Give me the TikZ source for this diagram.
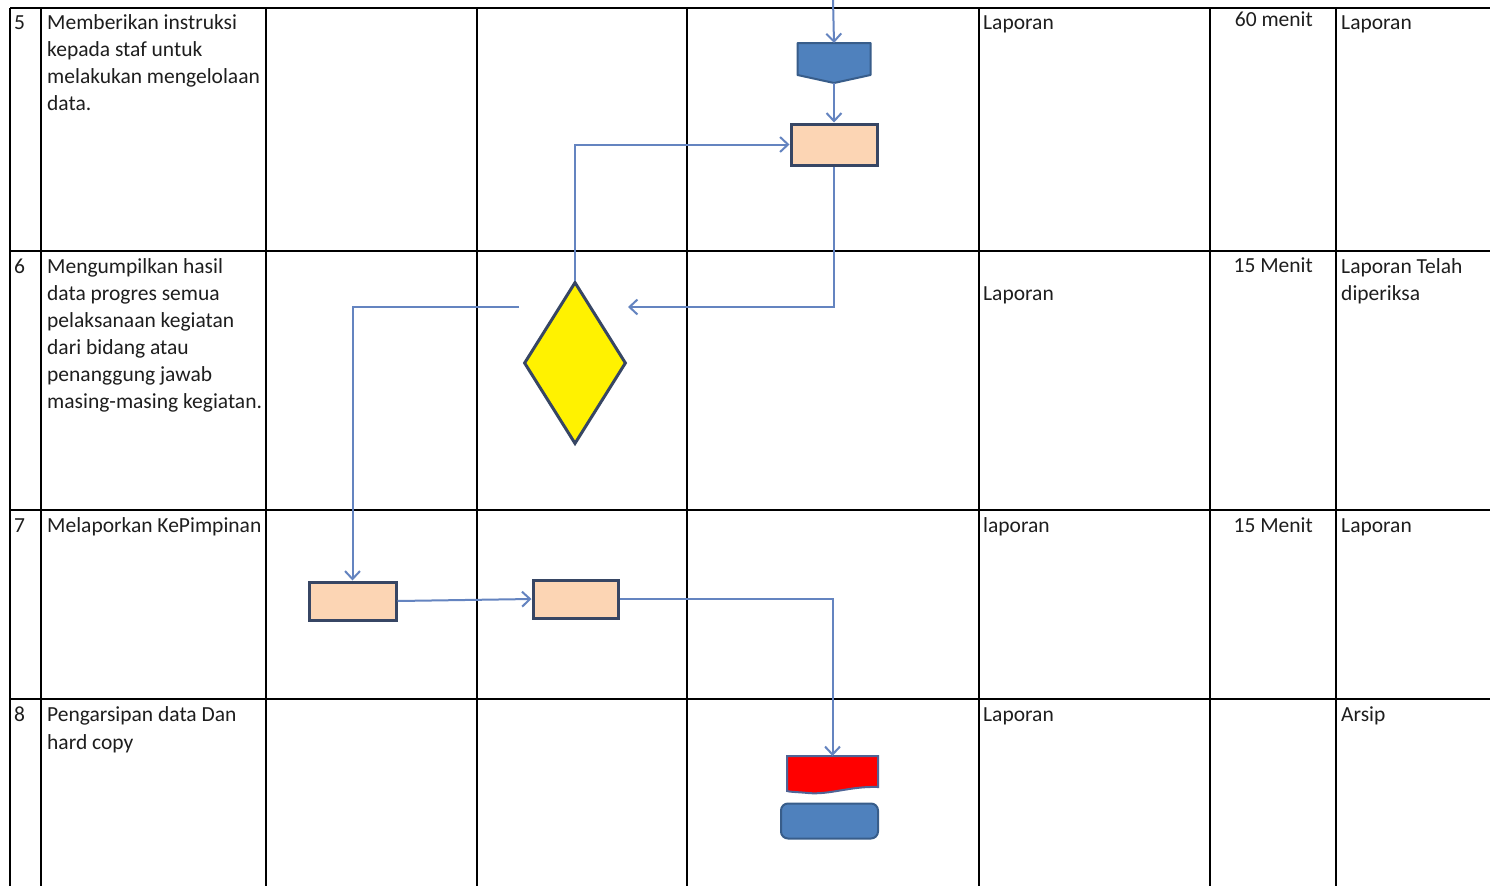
\documentclass[tikz,border=0pt]{standalone}
\usepackage{fontspec}
\setmainfont{Carlito}
\usetikzlibrary{arrows.meta,shapes.geometric}
\definecolor{lineblue}{RGB}{100,132,192}
\definecolor{shapeborder}{RGB}{55,70,100}
\definecolor{peach}{RGB}{252,213,180}
\definecolor{offblue}{RGB}{79,129,189}
\definecolor{offborder}{RGB}{56,93,138}
\definecolor{redborder}{RGB}{79,100,150}
\definecolor{txtcol}{RGB}{30,30,30}
\begin{document}
\begin{tikzpicture}[x=1pt,y=-1pt,
  gridline/.style={line width=1.9pt,black},
  conn/.style={line width=2pt,draw=lineblue,-{Straight Barb[length=8pt,width=15pt,line width=2pt]}},
  procbox/.style={rectangle,draw=shapeborder,line width=3pt,fill=peach,minimum width=#1,minimum height=38pt,inner sep=0pt},
  holder/.style={rectangle,draw=none,inner sep=0pt,outer sep=0pt},
  txt/.style={anchor=base west,inner sep=0pt,text=txtcol,font=\fontsize{21.5}{27}\selectfont},
  txtr/.style={anchor=base east,inner sep=0pt,text=txtcol,font=\fontsize{21.5}{27}\selectfont}
]
\useasboundingbox (0,0) rectangle (1490,886);
\fill[white] (0,0) rectangle (1490,886);

% grid
\foreach \y in {8,251,510,699} \draw[gridline] (10,\y) -- (1490,\y);
\foreach \x in {10,41,266,477,687,979,1210,1336} \draw[gridline] (\x,8) -- (\x,886);

% row numbers and activity texts
\node[txt] (n5) at (14,29) {5};
\node[txt] (n6) at (14,273) {6};
\node[txt] (n7) at (14,532) {7};
\node[txt] (n8) at (14,721) {8};

\node[txt] (a5a) at (47,29) {Memberikan instruksi};
\node[txt] (a5b) at (47,56) {kepada staf untuk};
\node[txt] (a5c) at (47,83) {melakukan mengelolaan};
\node[txt] (a5d) at (47,110) {data.};

\node[txt] (a6a) at (47,273) {Mengumpilkan hasil};
\node[txt] (a6b) at (47,300) {data progres semua};
\node[txt] (a6c) at (47,327) {pelaksanaan kegiatan};
\node[txt] (a6d) at (47,354) {dari bidang atau};
\node[txt] (a6e) at (47,381) {penanggung jawab};
\node[txt] (a6f) at (47,408) {masing-masing kegiatan.};

\node[txt] (a7a) at (47,532) {Melaporkan KePimpinan};

\node[txt] (a8a) at (47,721) {Pengarsipan data Dan};
\node[txt] (a8b) at (47,749) {hard copy};

% kelengkapan
\node[txt] (k5) at (983,29) {Laporan};
\node[txt] (k6) at (983,300) {Laporan};
\node[txt] (k7) at (983,532) {laporan};
\node[txt] (k8) at (983,721) {Laporan};

% waktu
\node[txtr] (w5) at (1313,27) {60 menit};
\node[txtr] (w6) at (1313,272) {15 Menit};
\node[txtr] (w7) at (1313,532) {15 Menit};

% output
\node[txt] (o5) at (1341,29) {Laporan};
\node[txt] (o6a) at (1341,273) {Laporan Telah};
\node[txt] (o6b) at (1341,300) {diperiksa};
\node[txt] (o7) at (1341,532) {Laporan};
\node[txt] (o8) at (1341,721) {Arsip};

% shapes
\node[holder,minimum width=73pt,minimum height=40pt] (offp) at (834,63) {};
\fill[offblue] (797.5,43) -- (870.5,43) -- (870.5,75) -- (offp.south) -- (797.5,75) -- cycle;
\draw[offborder,line width=2pt,line join=round] (797.5,43) -- (870.5,43) -- (870.5,75) -- (offp.south) -- (797.5,75) -- cycle;

\node[procbox=86pt,minimum height=41pt] (r1) at (834,144.5) {};
\node[diamond,draw=shapeborder,line width=3pt,fill=yellow,minimum width=102pt,minimum height=162pt,inner sep=0pt] (dia) at (575,363) {};
\node[procbox=87pt] (r2) at (352.5,601) {};
\node[procbox=85pt] (r3) at (575.5,599) {};

\node[holder,minimum width=91pt,minimum height=36pt] (doc) at (832.5,774) {};
\draw[redborder,fill=red,line width=2pt] (787,756) -- (878,756) -- (878,787)
  .. controls (850,786) and (830,795) .. (808,793) .. controls (798,792) and (790,792) .. (787,791) -- cycle;

\node[rectangle,rounded corners=7pt,draw=offborder,fill=offblue,line width=2pt,minimum width=97pt,minimum height=35pt,inner sep=0pt] (term) at (829.5,821) {};

% connectors
\coordinate (top) at (833,0);
\coordinate (c1) at (628,307);
\coordinate (c2) at (519,307);
\draw[conn] (top) -- (offp.north);
\draw[conn] (offp.south) -- (r1.north);
\draw[conn] (r1.south) |- (c1);
\draw[conn] (dia.north) |- (r1.west);
\draw[conn] (c2) -| (r2.north);
\draw[conn] (r2.east) -- (r3.west);
\draw[conn] (r3.east) -| (doc.north);
\end{tikzpicture}
\end{document}
